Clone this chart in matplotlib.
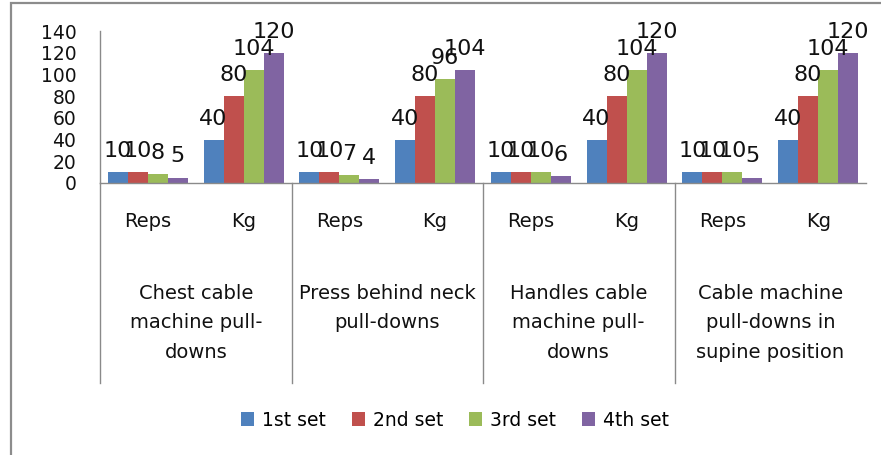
import matplotlib
matplotlib.use("Agg")
import matplotlib.pyplot as plt
import numpy as np
from matplotlib.patches import Rectangle, Patch
from matplotlib.lines import Line2D
from matplotlib.transforms import blended_transform_factory

plt.rcParams['font.family'] = ['DejaVu Sans']

# ---- data ----
exercises = ["Chest cable\nmachine pull-\ndowns",
             "Press behind neck\npull-downs",
             "Handles cable\nmachine pull-\ndowns",
             "Cable machine\npull-downs in\nsupine position"]
measures = ["Reps", "Kg"]
series_names = ["1st set", "2nd set", "3rd set", "4th set"]
set1 = [10, 40, 10, 40, 10, 40, 10, 40]
set2 = [10, 80, 10, 80, 10, 80, 10, 80]
set3 = [8, 104, 7, 96, 10, 104, 10, 104]
set4 = [5, 120, 4, 104, 6, 120, 5, 120]
colors = ["#4F81BD", "#C0504D", "#9BBB59", "#8064A2"]
yticks = [0, 20, 40, 60, 80, 100, 120, 140]

W, H = 881, 455
fig = plt.figure(figsize=(W / 100, H / 100), dpi=100)
ax = fig.add_axes([100 / W, 1 - 183 / H, (866 - 100) / W, (183 - 31.3) / H])

series = [set1, set2, set3, set4]
ncat = len(set1)
x = np.arange(ncat)
bw = 0.209
for i, (vals, c) in enumerate(zip(series, colors)):
    pos = x + (i - 1.5) * bw
    ax.bar(pos, vals, width=bw, color=c, edgecolor='none', zorder=2)
    for px, v in zip(pos, vals):
        ax.annotate(str(v), (px, v), xytext=(0, 8), textcoords='offset points',
                    ha='center', va='bottom', fontsize=16, color='#111111')

ax.set_xlim(-0.5, ncat - 0.5)
ax.set_ylim(0, 140)
ax.set_yticks(yticks)
ax.set_yticklabels([str(t) for t in yticks], fontsize=13.5, color='#111111')
ax.tick_params(axis='y', length=0, pad=17)
ax.set_xticks(x)
ax.set_xticklabels(measures * len(exercises), fontsize=14, color='#111111')
ax.tick_params(axis='x', length=0, pad=21)

for s in ['top', 'right']:
    ax.spines[s].set_visible(False)
for s in ['left', 'bottom']:
    ax.spines[s].set_color('#8a8a8a')
    ax.spines[s].set_linewidth(1.0)

# group separators and labels
tr = blended_transform_factory(ax.transData, ax.transAxes)
ax_h_px = 183 - 31.3
y_low = -(383 - 183) / ax_h_px
for k in range(len(exercises)):
    xs = -0.5 + 2 * k
    ax.add_line(Line2D([xs, xs], [0, y_low], transform=tr, color='#8a8a8a',
                       lw=1.0, clip_on=False))
y_lab = -(284 - 183) / ax_h_px
for k, name in enumerate(exercises):
    ax.text(0.5 + 2 * k, y_lab, name, transform=tr, ha='center', va='top',
            fontsize=14, linespacing=1.7, color='#111111', multialignment='center')

# legend
handles = [Patch(facecolor=c, edgecolor='none') for c in colors]
fig.legend(handles, series_names, loc='center', bbox_to_anchor=(455 / W, 1 - 420 / H),
           ncol=4, frameon=False, fontsize=13.5, handlelength=0.7, handleheight=0.7,
           handletextpad=0.4, columnspacing=1.4)

# outer border
fig.add_artist(Rectangle((11 / W, -0.2), 2, (1 - 3 / H) + 0.2, transform=fig.transFigure,
                         fill=False, edgecolor='#8c8c8c', lw=1.6))

fig.savefig("out.png", dpi=100)
